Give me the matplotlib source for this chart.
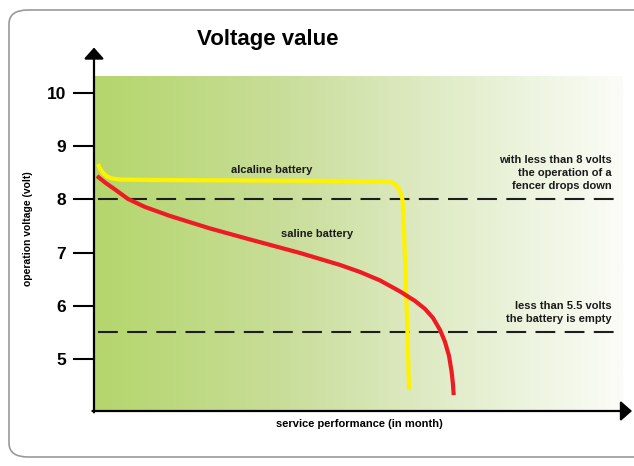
import matplotlib.pyplot as plt
import numpy as np
from matplotlib.colors import LinearSegmentedColormap
from matplotlib.patches import FancyBboxPatch

# ------------------------------------------
# Discharge curves (x = months, y = volts)
# ------------------------------------------
alcaline_months = [0.076, 0.113, 0.170, 0.246, 0.340, 0.491, 1.059, 2.949, 4.839,
                   5.501, 5.633, 5.709, 5.766, 5.803, 5.832, 5.860, 5.898, 5.936, 5.955]
alcaline_volts = [8.665, 8.581, 8.496, 8.430, 8.393, 8.374, 8.365, 8.355, 8.346,
                  8.337, 8.318, 8.271, 8.195, 8.102, 7.989, 7.425, 6.297, 5.169, 4.417]

saline_months = [0.057, 0.208, 0.397, 0.643, 0.964, 1.437, 2.193, 2.949, 3.894,
                 4.650, 5.028, 5.406, 5.784, 6.068, 6.257, 6.408, 6.541, 6.635,
                 6.711, 6.760, 6.785, 6.800]
saline_volts = [8.440, 8.318, 8.186, 8.008, 7.857, 7.688, 7.453, 7.246, 6.992,
                6.767, 6.635, 6.476, 6.269, 6.090, 5.940, 5.771, 5.545, 5.320,
                5.056, 4.760, 4.530, 4.320]

voltage_ticks = [5, 6, 7, 8, 9, 10]
thresholds = [8.0, 5.5]

FONT = ['Liberation Sans', 'DejaVu Sans']

fig = plt.figure(figsize=(6.34, 4.66), dpi=100)

# rounded grey frame around the whole graphic
frame = FancyBboxPatch((9 / 634, 9 / 466), 700 / 634, 447 / 466,
                       boxstyle="round,pad=0,rounding_size=0.03",
                       transform=fig.transFigure, facecolor='none',
                       edgecolor='#9a9a9a', linewidth=1.2)
fig.patches.append(frame)

ax = fig.add_axes([94 / 634, 55 / 466, 529 / 634, 335 / 466])
ax.set_xlim(0, 10)
ax.set_ylim(4.02, 10.32)

# green-to-white background
cmap = LinearSegmentedColormap.from_list(
    'bg', [(0.0, '#b4d66c'), (0.35, '#c8dd98'), (0.6, '#dce9bf'),
           (0.8, '#ebf3dc'), (1.0, '#fbfcf7')])
grad = np.linspace(0, 1, 256).reshape(1, -1)
ax.imshow(grad, cmap=cmap, aspect='auto', extent=[0, 10, 4.02, 10.32], zorder=0)

for s in ax.spines.values():
    s.set_visible(False)

# threshold lines
for t in thresholds:
    line, = ax.plot([0.08, 10], [t, t], color='#1e1e1e', linewidth=1.5, zorder=2)
    line.set_dashes([9.5, 4.5])

ax.plot(alcaline_months, alcaline_volts, color='#fff200', linewidth=3.0,
        solid_capstyle='butt', solid_joinstyle='round', zorder=3)
ax.plot(saline_months, saline_volts, color='#ed1c24', linewidth=3.0,
        solid_capstyle='butt', solid_joinstyle='round', zorder=4)

# axes with arrow heads
arrow = dict(arrowstyle='-|>,head_length=0.45,head_width=0.4', color='black',
             linewidth=1.6, mutation_scale=15, shrinkA=0, shrinkB=0)
ax.annotate('', xy=(0, 1.085), xytext=(0, -0.004), xycoords='axes fraction',
            textcoords='axes fraction', arrowprops=arrow, annotation_clip=False)
ax.annotate('', xy=(1.017, 0), xytext=(-0.003, 0), xycoords='axes fraction',
            textcoords='axes fraction', arrowprops=arrow, annotation_clip=False)

ax.set_xticks([])
ax.set_yticks(voltage_ticks)
ax.set_yticklabels([str(v) for v in voltage_ticks], fontfamily=FONT,
                   fontweight='bold', fontsize=12.5)
ax.tick_params(axis='y', direction='out', length=15, width=1.5, pad=5)

# curve labels
note = dict(fontsize=8, fontweight='bold', family=FONT, color='#1a1a1a')
ax.text(3.35, 8.55, 'alcaline battery', ha='center', va='center', **note)
ax.text(4.22, 7.35, 'saline battery', ha='center', va='center', **note)

# threshold notes
ax.text(9.79, 8.50, 'with less than 8 volts\nthe operation of a\nfencer drops down',
        ha='right', va='center', multialignment='right', linespacing=1.4, **note)
ax.text(9.79, 5.87, 'less than 5.5 volts\nthe battery is empty',
        ha='right', va='center', multialignment='right', linespacing=1.4, **note)

fig.text(268 / 634, 1 - 40 / 466, 'Voltage value', ha='center', va='center',
         fontsize=16, fontweight='bold', family=FONT)
fig.text(28 / 634, 1 - 229 / 466, 'operation voltage (volt)', rotation=90,
         ha='center', va='center', fontsize=7.5, fontweight='bold', family=FONT)
fig.text(359 / 634, 1 - 424 / 466, 'service performance (in month)',
         ha='center', va='center', fontsize=8, fontweight='bold', family=FONT)

fig.savefig('out.png', dpi=100)
